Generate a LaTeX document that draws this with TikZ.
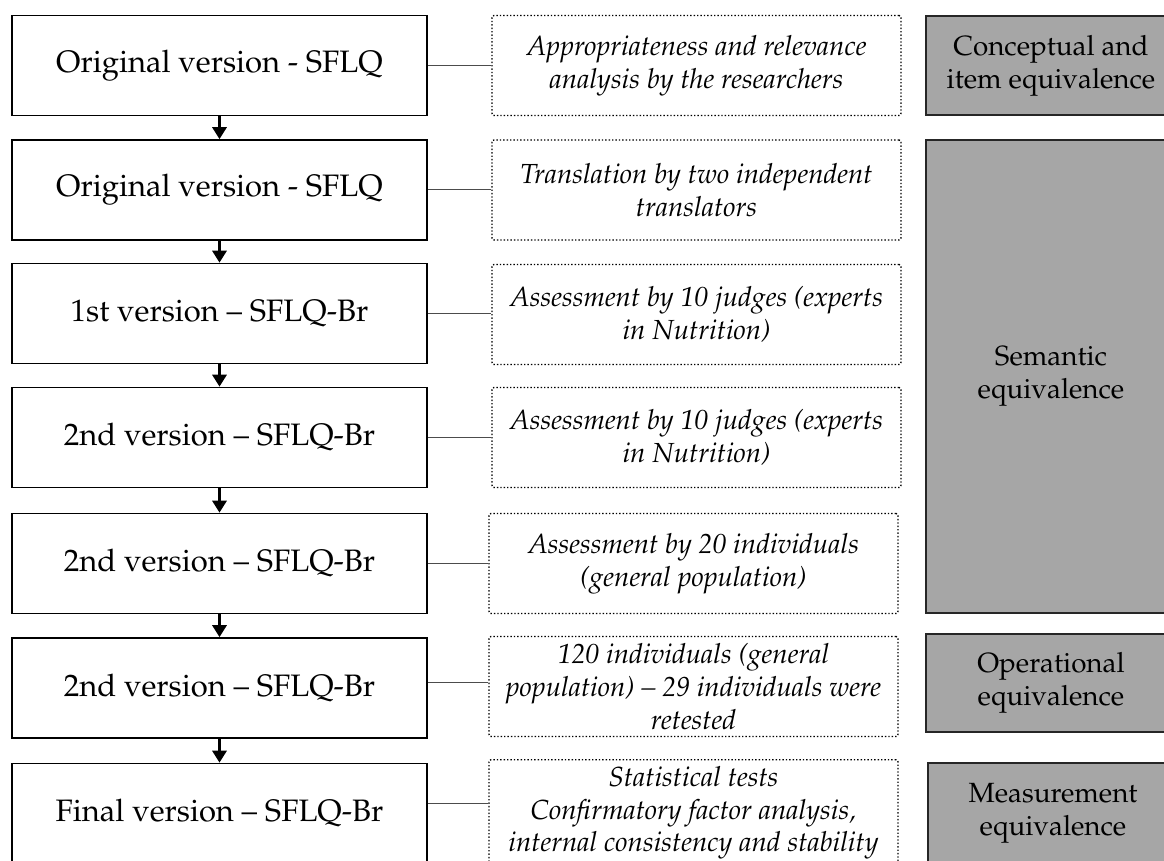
\documentclass[tikz,border=0pt]{standalone}
\usepackage[T1]{fontenc}
\usepackage{mathpazo}
\usetikzlibrary{arrows.meta}

\tikzset{
  version/.style={rectangle, draw, line width=0.8pt, minimum width=207.5pt, minimum height=50pt,
    font=\fontsize{15.5}{17}\selectfont},
  task/.style={rectangle, draw=black, densely dotted, line width=0.7pt, rounded corners=1pt,
    minimum width=204.5pt, minimum height=50pt, align=center, font=\fontsize{13.8}{16.4}\selectfont\itshape},
  stage/.style={rectangle, draw=black!85, line width=0.9pt, fill=black!35, minimum width=125pt,
    align=center, font=\fontsize{13.9}{16.4}\selectfont},
  flow/.style={line width=1.6pt, -{Triangle[length=6pt,width=7pt]}},
  link/.style={draw=black!70, line width=0.5pt}
}

\begin{document}
\begin{tikzpicture}[x=0.5pt,y=-0.5pt]
    \path[use as bounding box, clip] (0,0) rectangle (1164,861);
    % versions
    \node [version] at (219.5, 65.5) (v1) {Original version - SFLQ};
    \node [version] at (219.5,190.0) (v2) {Original version - SFLQ};
    \node [version] at (219.5,313.5) (v3) {1st version -- SFLQ-Br};
    \node [version] at (219.5,437.5) (v4) {2nd version -- SFLQ-Br};
    \node [version] at (219.5,563.5) (v5) {2nd version -- SFLQ-Br};
    \node [version] at (219.5,688.0) (v6) {2nd version -- SFLQ-Br};
    \node [version] at (219.5,813.5) (v7) {Final version -- SFLQ-Br};
    % tasks
    \node [task] at (696.5, 65.5) (t1) {Appropriateness and relevance\\analysis by the researchers};
    \node [task] at (696.5,190.0) (t2) {Translation by two independent\\translators};
    \node [task] at (696.5,314.5) (t3) {Assessment by 10 judges (experts\\in Nutrition)};
    \node [task] at (696.5,437.5) (t4) {Assessment by 10 judges (experts\\in Nutrition)};
    \node [task] at (693.5,563.5) (t5) {Assessment by 20 individuals\\(general population)};
    \node [task] at (693.5,686.5) (t6) {120 individuals (general\\population) -- 29 individuals were\\retested};
    \node [task] at (693.5,813.0) (t7) {Statistical tests\\Confirmatory factor analysis,\\internal consistency and stability};
    % stages
    \node [stage, minimum height=49.5pt] at (1051, 65.5) (s1) {Conceptual and\\item equivalence};
    \node [stage, minimum height=236.5pt] at (1051,376.5) (s2) {Semantic\\equivalence};
    \node [stage, minimum height=49pt] at (1051,683.0) (s3) {Operational\\equivalence};
    \node [stage, minimum height=50pt] at (1053,813.0) (s4) {Measurement\\equivalence};
    % flow
    \draw [flow] (v1) -- (v2) ;
    \draw [flow] (v2) -- (v3) ;
    \draw [flow] (v3) -- (v4) ;
    \draw [flow] (v4) -- (v5) ;
    \draw [flow] (v5) -- (v6) ;
    \draw [flow] (v6) -- (v7) ;
    % links
    \draw [link] (v1.east) -- (v1.east -| t1.west) ;
    \draw [link] (v2.east) -- (v2.east -| t2.west) ;
    \draw [link] (v3.east) -- (v3.east -| t3.west) ;
    \draw [link] (v4.east) -- (v4.east -| t4.west) ;
    \draw [link] (v5.east) -- (v5.east -| t5.west) ;
    \draw [link] ([yshift=2.5pt]v6.east) -- ([yshift=2.5pt]v6.east -| t6.west) ;
    \draw [link] ([yshift=5pt]v7.east) -- ([yshift=5pt]v7.east -| t7.west) ;
\end{tikzpicture}
\end{document}
